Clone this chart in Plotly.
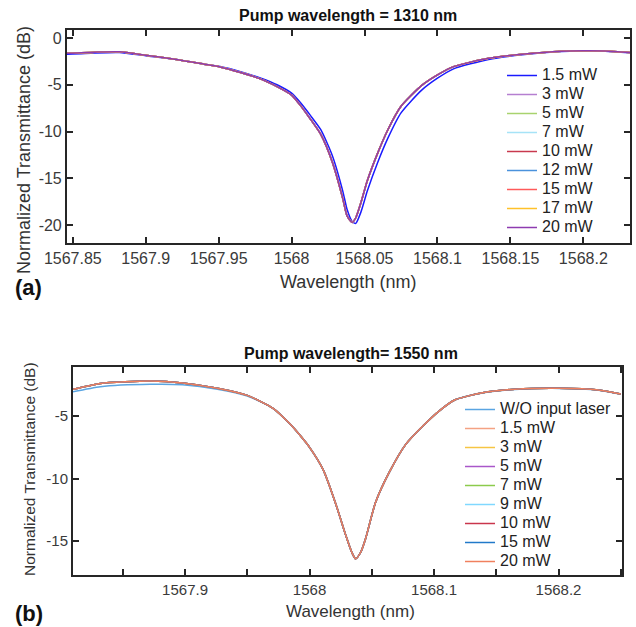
import plotly.graph_objects as go

# ---------------- Panel (a): Pump wavelength = 1310 nm ----------------
wl_a = [1567.846, 1567.865, 1567.882, 1567.900, 1567.921, 1567.940, 1567.951, 1567.965,
        1567.979, 1567.990, 1568.000, 1568.006, 1568.013, 1568.020, 1568.028, 1568.035,
        1568.038, 1568.0415, 1568.044, 1568.0475, 1568.052, 1568.059, 1568.066, 1568.075,
        1568.089, 1568.100, 1568.111, 1568.135, 1568.158, 1568.185, 1568.200, 1568.215, 1568.233]
trans_a_15mw = [-1.75, -1.60, -1.55, -1.90, -2.30, -2.80, -3.05, -3.60,
                -4.30, -5.00, -5.90, -6.90, -8.30, -9.80, -12.6, -16.3,
                -18.3, -19.6, -19.8, -18.6, -16.3, -13.3, -10.7, -8.00,
                -5.60, -4.30, -3.30, -2.30, -1.80, -1.45, -1.40, -1.41, -1.58]
trans_a_pumped = [-1.64, -1.52, -1.48, -1.85, -2.30, -2.80, -3.10, -3.70,
                  -4.40, -5.20, -6.10, -7.20, -8.70, -10.3, -13.3, -17.1,
                  -19.0, -19.7, -19.2, -17.6, -15.2, -12.3, -9.80, -7.30,
                  -5.10, -3.95, -3.06, -2.17, -1.74, -1.42, -1.38, -1.40, -1.57]
labels_a = ["1.5 mW", "3 mW", "5 mW", "7 mW", "10 mW", "12 mW", "15 mW", "17 mW", "20 mW"]
colors_a = ["#1a1aff", "#b57fd0", "#a8d36e", "#a6e3f7", "#c8394e",
            "#4a92dc", "#ff5a5a", "#ffc12a", "#8e3bb0"]
xticks_a = [1567.85, 1567.9, 1567.95, 1568.0, 1568.05, 1568.1, 1568.15, 1568.2]
xticktext_a = ["1567.85", "1567.9", "1567.95", "1568", "1568.05", "1568.1", "1568.15", "1568.2"]
yticks_a = [0, -5, -10, -15, -20]
yticktext_a = ["0", "-5", "-10", "-15", "-20"]

# ---------------- Panel (b): Pump wavelength = 1550 nm ----------------
wl_b = [1567.810, 1567.832, 1567.872, 1567.898, 1567.926, 1567.950, 1567.971, 1567.984,
        1567.992, 1568.000, 1568.011, 1568.021, 1568.029, 1568.034, 1568.037, 1568.041,
        1568.045, 1568.053, 1568.064, 1568.077, 1568.091, 1568.104, 1568.117, 1568.139,
        1568.165, 1568.200, 1568.232, 1568.250]
trans_b_wo = [-3.06, -2.65, -2.46, -2.50, -2.85, -3.40, -4.40, -5.60,
              -6.50, -7.50, -9.30, -12.0, -14.5, -15.9, -16.4, -15.9,
              -14.8, -11.9, -9.50, -7.30, -5.80, -4.60, -3.70, -3.16,
              -2.88, -2.79, -2.93, -3.25]
trans_b_pumped = [-2.86, -2.39, -2.20, -2.35, -2.78, -3.35, -4.40, -5.60,
                  -6.50, -7.50, -9.30, -12.0, -14.5, -15.9, -16.4, -15.9,
                  -14.8, -11.9, -9.50, -7.30, -5.80, -4.60, -3.70, -3.14,
                  -2.86, -2.78, -2.92, -3.24]
labels_b = ["W/O input laser", "1.5 mW", "3 mW", "5 mW", "7 mW", "9 mW", "10 mW", "15 mW", "20 mW"]
colors_b = ["#5aa5e2", "#f4a283", "#f6c544", "#a957c9", "#8ccb4c",
            "#80d8ff", "#c9364c", "#2179c9", "#f0805e"]
xticks_b = [1567.85, 1567.9, 1567.95, 1568.0, 1568.05, 1568.1, 1568.15, 1568.2, 1568.25]
xticktext_b = ["", "1567.9", "", "1568", "", "1568.1", "", "1568.2", ""]
yticks_b = [-5, -10, -15]
yticktext_b = ["-5", "-10", "-15"]

FONT = "Liberation Sans, Arial, sans-serif"

fig = go.Figure()

for i, (lab, col) in enumerate(zip(labels_a, colors_a)):
    ys = trans_a_15mw if i == 0 else trans_a_pumped
    fig.add_trace(go.Scatter(
        x=wl_a, y=ys, mode="lines", xaxis="x", yaxis="y",
        line=dict(color=col, width=1.5, shape="spline", smoothing=0.6),
        name=f"<span style='font-size:16px'>{lab}</span>", legend="legend"))

for i, (lab, col) in enumerate(zip(labels_b, colors_b)):
    ys = trans_b_wo if i == 0 else trans_b_pumped
    fig.add_trace(go.Scatter(
        x=wl_b, y=ys, mode="lines", xaxis="x2", yaxis="y2",
        line=dict(color=col, width=1.5, shape="spline", smoothing=0.6),
        name=f"<span style='font-size:16px'>{lab}</span>", legend="legend2"))

axis_common = dict(showline=True, mirror="ticks", linecolor="#262626", linewidth=2,
                   ticks="inside", ticklen=6, tickwidth=2, tickcolor="#262626",
                   showgrid=False, zeroline=False, automargin=False,
                   tickfont=dict(family=FONT, size=16, color="#3a3a3a"))
tf_b = dict(family=FONT, size=15, color="#3a3a3a")

fig.update_layout(
    width=636, height=627, margin=dict(l=0, r=0, t=0, b=0, autoexpand=False),
    paper_bgcolor="white", plot_bgcolor="white",
    font=dict(family=FONT, color="#222"),
    xaxis=dict(domain=[0.1053, 0.9906], anchor="y", range=[1567.846, 1568.232],
               tickmode="array", tickvals=xticks_a, ticktext=xticktext_a, **axis_common),
    yaxis=dict(domain=[0.6124, 0.9522], anchor="x", range=[-21.9, 0.85],
               tickmode="array", tickvals=yticks_a, ticktext=yticktext_a, **axis_common),
    xaxis2=dict(domain=[0.1148, 0.978], anchor="y2", range=[1567.81, 1568.251],
                tickmode="array", tickvals=xticks_b, ticktext=xticktext_b,
                **{**axis_common, "tickfont": tf_b}),
    yaxis2=dict(domain=[0.0829, 0.4147], anchor="x2", range=[-17.7, -1.08],
                tickmode="array", tickvals=yticks_b, ticktext=yticktext_b,
                **{**axis_common, "tickfont": tf_b}),
    legend=dict(x=502 / 636, y=1 - 61 / 627, xanchor="left", yanchor="top",
                bgcolor="rgba(0,0,0,0)", borderwidth=0,
                font=dict(family=FONT, size=12, color="#222"), tracegroupgap=0),
    legend2=dict(x=460 / 636, y=1 - 395 / 627, xanchor="left", yanchor="top",
                 bgcolor="rgba(0,0,0,0)", borderwidth=0,
                 font=dict(family=FONT, size=12, color="#222"), tracegroupgap=0),
    showlegend=True,
)

ann = [
    dict(text="<b>Pump wavelength = 1310 nm</b>", x=348 / 636, y=1 - 15 / 627, size=16, angle=0),
    dict(text="Wavelength (nm)", x=348 / 636, y=1 - 282 / 627, size=18, angle=0),
    dict(text="Normalized Transmittance (dB)", x=24 / 636, y=1 - 150 / 627, size=18, angle=-90),
    dict(text="<b>(a)</b>", x=29 / 636, y=1 - 288 / 627, size=22, angle=0),
    dict(text="<b>Pump wavelength= 1550 nm</b>", x=351 / 636, y=1 - 353 / 627, size=16, angle=0),
    dict(text="Wavelength (nm)", x=350 / 636, y=1 - 611 / 627, size=17, angle=0),
    dict(text="Normalized Transmittance (dB)", x=29 / 636, y=1 - 469 / 627, size=15.5, angle=-90),
    dict(text="<b>(b)</b>", x=29 / 636, y=1 - 613 / 627, size=22, angle=0),
]
for a in ann:
    fig.add_annotation(text=a["text"], x=a["x"], y=a["y"], xref="paper", yref="paper",
                       xanchor="center", yanchor="middle", showarrow=False,
                       textangle=a["angle"],
                       font=dict(family=FONT, size=a["size"],
                                 color="#111" if "<b>" in a["text"] else "#333"))

fig.write_html("out.html")
